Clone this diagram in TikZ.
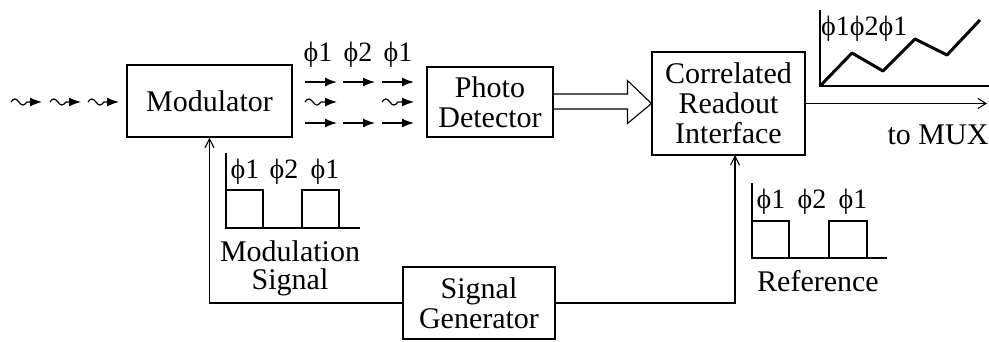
\documentclass[tikz,border=0pt]{standalone}
\usepackage{fontspec}
\newfontfamily\tnr{Liberation Serif}
\usetikzlibrary{arrows.meta,calc}
\begin{document}
\begin{tikzpicture}[x=1pt,y=-1pt,
  box/.style={draw,line width=1.1pt,align=center,inner sep=0pt,font=\tnr\fontsize{30}{30}\selectfont},
  lbl/.style={inner sep=0pt,font=\tnr\fontsize{30}{30}\selectfont},
  phil/.style={inner sep=0pt,font=\tnr\fontsize{28}{28}\selectfont},
  ln/.style={line width=1.1pt},
  sarr/.style={line width=1.4pt,-{Latex[length=12pt,width=9pt]}},
  warr/.style={line width=1.2pt,-{Latex[length=12pt,width=9pt]},
    to path={.. controls ($(\tikztostart)+(2.5,-4)$) and ($(\tikztostart)+(5,-4)$) .. ($(\tikztostart)+(8,0)$)
             .. controls ($(\tikztostart)+(10.5,4)$) and ($(\tikztostart)+(13,4)$) .. ($(\tikztostart)+(16,0)$)
             -- (\tikztotarget)}},
  fb/.style={line width=1.1pt,-{Straight Barb[length=9pt,width=9pt,line width=1.1pt]}}
]
\useasboundingbox (0,0) rectangle (989,341);

% boxes
\node[box,minimum width=165pt,minimum height=72pt] (mod) at (209.5,101) {Modulator};
\node[box,minimum width=126pt,minimum height=70pt] (pd) at (490,102) {Photo\\Detector};
\node[box,minimum width=153pt,minimum height=103pt] (cri) at (728.5,103.5) {Correlated\\Readout\\Interface};
\node[box,minimum width=152pt,minimum height=72pt] (sg) at (479,303) {Signal\\Generator};

% incoming wavy arrows
\coordinate (w1a) at (11,102); \coordinate (w1b) at (42,102);
\coordinate (w2a) at (50,102); \coordinate (w2b) at (81,102);
\coordinate (w3a) at (88,102); \coordinate (w3b) at (119,102);
\draw[warr] (w1a) to (w1b);
\draw[warr] (w2a) to (w2b);
\draw[warr] (w3a) to (w3b);

% phase labels above arrows
\node[phil] (p1) at (318,55) {ϕ1};
\node[phil] (p2) at (358,55) {ϕ2};
\node[phil] (p3) at (398,55) {ϕ1};

% arrow matrix
\coordinate (a11) at (305,82); \coordinate (b11) at (337,82);
\coordinate (a12) at (343,82); \coordinate (b12) at (375,82);
\coordinate (a13) at (382,82); \coordinate (b13) at (414,82);
\coordinate (a21) at (305,102); \coordinate (b21) at (337,102);
\coordinate (a23) at (382,102); \coordinate (b23) at (414,102);
\coordinate (a31) at (305,123); \coordinate (b31) at (337,123);
\coordinate (a32) at (343,123); \coordinate (b32) at (375,123);
\coordinate (a33) at (382,123); \coordinate (b33) at (414,123);
\draw[sarr] (a11) -- (b11);
\draw[sarr] (a12) -- (b12);
\draw[sarr] (a13) -- (b13);
\draw[warr] (a21) to (b21);
\draw[warr] (a23) to (b23);
\draw[sarr] (a31) -- (b31);
\draw[sarr] (a32) -- (b32);
\draw[sarr] (a33) -- (b33);

% hollow arrow PD -> CRI
\draw[line width=1.1pt,line join=miter]
  ($(pd.east)+(0,-8)$) -- ($(cri.west)+(-24,-9.5)$) -- ($(cri.west)+(-24,-23)$)
  -- (cri.west) -- ($(cri.west)+(-24,20)$) -- ($(cri.west)+(-24,5.5)$) -- ($(pd.east)+(0,7)$);

% output graph
\coordinate (gy0) at (820,10); \coordinate (go) at (820,86); \coordinate (gx1) at (989,86);
\draw[line width=1.1pt] (gy0) -- (go) -- (gx1);
\draw[line width=3pt,line join=round] (821,85) -- (852,53) -- (883,71) -- (915,39) -- (947,55) -- (980,20);
\node[phil,anchor=west] (gl) at (821,29) {ϕ1ϕ2ϕ1};

% output to MUX
\coordinate (mux) at (987,103.5);
\draw[line width=1.1pt,-{Straight Barb[length=8pt,width=10pt]}] (cri.east) -- (mux);
\node[lbl] (tomux) at (938,135) {to MUX};

% feedback lines
\coordinate (crin) at (735,155);
\draw[fb] (sg.west) -| (mod.south);
\draw[fb] (sg.east) -| (crin);

% modulation signal waveform
\draw[ln] (226,153) -- (226,228) -- (360,228);
\draw[ln] (226,190) -- (263,190) -- (263,228);
\draw[ln] (302,228) -- (302,190) -- (339,190) -- (339,228);
\node[phil] (m1) at (245,172) {ϕ1};
\node[phil] (m2) at (284,172) {ϕ2};
\node[phil] (m3) at (325,172) {ϕ1};
\node[lbl] (ml) at (290,251) {Modulation};
\node[lbl] (ms) at (290,282) {Signal};

% reference waveform
\draw[ln] (752,183) -- (752,258) -- (887,258);
\draw[ln] (752,221) -- (789,221) -- (789,258);
\draw[ln] (829,258) -- (829,221) -- (867,221) -- (867,258);
\node[phil] (r1) at (771,202) {ϕ1};
\node[phil] (r2) at (812,202) {ϕ2};
\node[phil] (r3) at (853,202) {ϕ1};
\node[lbl] (rl) at (818,281) {Reference};
\end{tikzpicture}
\end{document}
